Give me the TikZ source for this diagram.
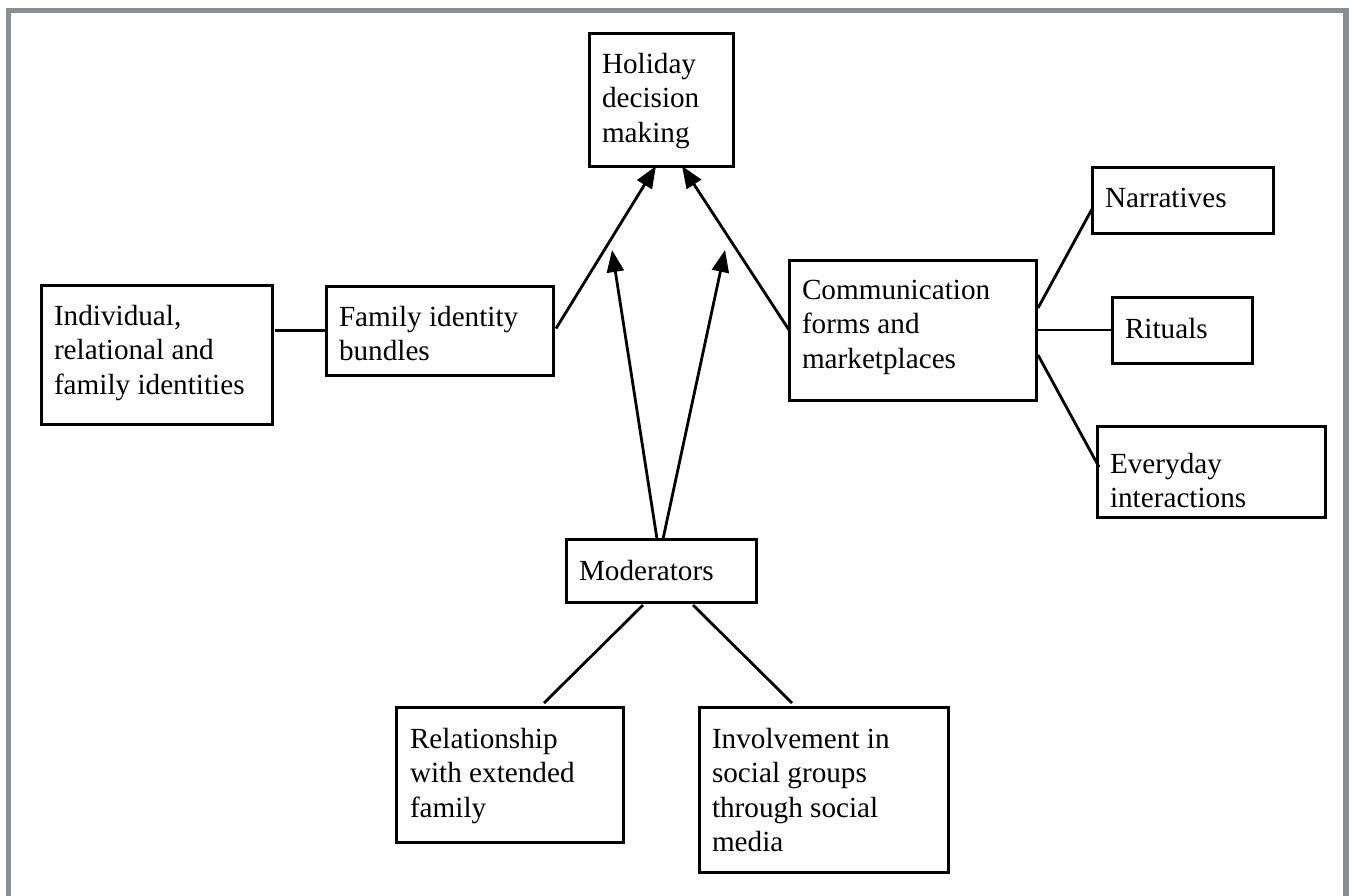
\documentclass[tikz,border=0pt]{standalone}
\usepackage{fontspec}
\setmainfont{Liberation Serif}
\usetikzlibrary{arrows.meta,calc}
\definecolor{framegray}{HTML}{8A8D91}
\begin{document}
\begin{tikzpicture}[x=0.5pt,y=-0.5pt,
  bx/.style={draw, line width=1.5pt, inner sep=0pt, outer sep=0pt, anchor=north west},
  txt/.style={inner sep=0pt, outer sep=0pt, anchor=north west, align=left,
              font=\fontsize{14.6pt}{17.25pt}\selectfont},
  ln/.style={line width=1.4pt},
  arr/.style={ln, -{Triangle[length=11pt,width=8.5pt]}}]
\useasboundingbox (0,0) rectangle (1352,895);
\clip (0,0) rectangle (1352,895);
\fill[white] (0,0) rectangle (1352,895);
% frame
\draw[framegray, line width=2.75pt] (8.5,930) -- (8.5,10.5) -- (1346,10.5) -- (1346,930);

% boxes
\node[bx, minimum width=115.5pt, minimum height=69.5pt] (ind) at (41,285) {};
\node[bx, minimum width=113.5pt, minimum height=44.5pt] (fam) at (326,286) {};
\node[bx, minimum width=72pt, minimum height=66.5pt] (hol) at (589,33) {};
\node[bx, minimum width=123.5pt, minimum height=70pt] (comm) at (789,260) {};
\node[bx, minimum width=90.5pt, minimum height=33pt] (nar) at (1092,167) {};
\node[bx, minimum width=70pt, minimum height=33pt] (rit) at (1112,297) {};
\node[bx, minimum width=114pt, minimum height=45.5pt] (ev) at (1097,426) {};
\node[bx, minimum width=95pt, minimum height=31.5pt] (mod) at (566,539) {};
\node[bx, minimum width=113.5pt, minimum height=67.5pt] (rel) at (396,707) {};
\node[bx, minimum width=124.5pt, minimum height=82.5pt] (inv) at (699,707) {};

% texts
\node[txt] (indt) at ([shift={(13,20)}]ind.north west) {Individual,\\relational and\\family identities};
\node[txt] (famt) at ([shift={(13,20)}]fam.north west) {Family identity\\bundles};
\node[txt] (holt) at ([shift={(13,20)}]hol.north west) {Holiday\\decision\\making};
\node[txt] (commt) at ([shift={(13,20)}]comm.north west) {Communication\\forms and\\marketplaces};
\node[txt] (nart) at ([shift={(13,21)}]nar.north west) {Narratives};
\node[txt] (ritt) at ([shift={(13,21)}]rit.north west) {Rituals};
\node[txt] (evt) at ([shift={(13,27)}]ev.north west) {Everyday\\interactions};
\node[txt] (modt) at ([shift={(13,21)}]mod.north west) {Moderators};
\node[txt] (relt) at ([shift={(14,21)}]rel.north west) {Relationship\\with extended\\family};
\node[txt] (invt) at ([shift={(13,21)}]inv.north west) {Involvement in\\social groups\\through social\\media};

% connectors
\draw[ln] ($(ind.east |- fam.west)+(3,0)$) -- (fam.west);
\draw[arr] ($(fam.east)+(3,-2)$) -- ($(hol.south west)+(67,0)$);
\draw[arr] (comm.west) -- ($(hol.south west)+(93,0)$);
\coordinate (m1) at (612,250);
\coordinate (m2) at (725,250);
\draw[arr] ($(mod.north west)+(91,0)$) -- (m1);
\draw[arr] ($(mod.north west)+(97,0)$) -- (m2);
\draw[ln] ($(mod.south west)+(77,3)$) -- ($(rel.north west)+(148,-4)$);
\draw[ln] ($(mod.south west)+(127,3)$) -- ($(inv.north west)+(93,-4)$);
\draw[ln] ($(comm.north east)+(2,48)$) -- ($(nar.north west)+(0,42)$);
\draw[ln] ($(comm.east)+(2,0)$) -- (rit.west);
\draw[ln] ($(comm.north east)+(2,95)$) -- ($(ev.north west)+(2,41)$);
\end{tikzpicture}
\end{document}
